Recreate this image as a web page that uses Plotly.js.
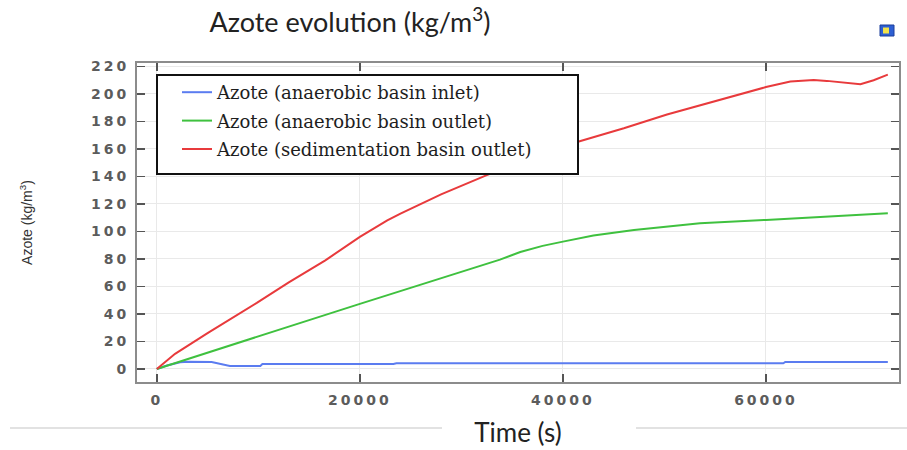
<!DOCTYPE html>
<html>
<head>
<meta charset="utf-8">
<script src="https://cdn.plot.ly/plotly-3.0.1.min.js"></script>
<style>
  html, body { margin: 0; padding: 0; background: #ffffff; }
  #chart { width: 907px; height: 450px; }
  .xtick text, .ytick text { letter-spacing: 3px; }
</style>
</head>
<body>
<div id="chart"></div>
<script>
// ---- data ----
const seriesNames = [
  "Azote (anaerobic basin inlet)",
  "Azote (anaerobic basin outlet)",
  "Azote (sedimentation basin outlet)"
];

const inletTime   = [0, 1000, 2300, 3100, 5400, 5800, 6300, 7200, 10200, 10400, 23300, 23600, 61700, 61900, 72000];
const inletAzote  = [0, 2.5, 4.8, 5.2, 5.0, 4.5, 3.6, 2.2, 2.2, 3.6, 3.6, 4.1, 4.1, 5.1, 5.1];

const anaOutTime  = [0, 5000, 9850, 15000, 20000, 25000, 30000, 33800, 35800, 38000, 40000, 43000, 47000, 53500, 60000, 66600, 72000];
const anaOutAzote = [0, 12, 23.5, 35.5, 47.3, 59, 71, 79.5, 85, 89.5, 92.6, 97, 101, 106, 108.4, 110.8, 113.2];

const sedOutTime  = [0, 1800, 5000, 9850, 13000, 16600, 20000, 22700, 24000, 28000, 32500, 36000, 41400, 46000, 50250, 55000, 60000, 62400, 64700, 66000, 67650, 69300, 70600, 72000];
const sedOutAzote = [0, 11, 26, 48, 63, 79, 96, 108, 113, 127, 141, 151, 165, 175, 185, 195, 205, 209, 210.2, 209.5, 208, 207, 210, 214];

const xTickVals = [0, 20000, 40000, 60000];
const yTickVals = [0, 20, 40, 60, 80, 100, 120, 140, 160, 180, 200, 220];

const chartTitle = "Azote evolution (kg/m<sup>3</sup>)";
const xTitle = "Time (s)";
const yTitle = "Azote (kg/m<sup>3</sup>)";

// ---- traces ----
const colors = ["#5b7cf0", "#3fc13f", "#e83a3c"];
const traces = [
  { x: inletTime,  y: inletAzote,  name: seriesNames[0] },
  { x: anaOutTime, y: anaOutAzote, name: seriesNames[1] },
  { x: sedOutTime, y: sedOutAzote, name: seriesNames[2] }
].map((t, i) => Object.assign(t, {
  type: "scatter",
  mode: "lines",
  line: { color: colors[i], width: 2 },
  legendgroup: "g" + i
}));

const tickFont = { family: "DejaVu Sans", size: 14, color: "#5c5c5c", weight: "bold" };

const axisCommon = {
  showline: true,
  linecolor: "#8c8c8c",
  linewidth: 2,
  mirror: "ticks",
  ticks: "inside",
  ticklen: 8,
  tickwidth: 1.5,
  tickcolor: "#555555",
  showgrid: true,
  gridcolor: "#e9e9e9",
  gridwidth: 1,
  zeroline: false,
  tickfont: tickFont
};

const layout = {
  width: 907,
  height: 450,
  paper_bgcolor: "#ffffff",
  plot_bgcolor: "#ffffff",
  margin: { l: 137, r: 8, t: 63, b: 68 },
  showlegend: true,
  title: {
    text: chartTitle,
    font: { family: "Lato", size: 27, color: "#222222" },
    x: 350 / 907, xanchor: "center", xref: "container",
    y: 1 - 23 / 450, yanchor: "middle", yref: "container"
  },
  xaxis: Object.assign({}, axisCommon, {
    range: [-1950, 73100],
    tickvals: xTickVals,
    ticktext: xTickVals.map(String),
    ticklabelstandoff: 4,
    title: { text: xTitle, font: { family: "Lato", size: 26, color: "#222222" }, standoff: 17 }
  }),
  yaxis: Object.assign({}, axisCommon, {
    range: [-9.5, 222.5],
    tickvals: yTickVals,
    ticktext: yTickVals.map(String),
    ticklabelstandoff: 3,
    title: { text: yTitle, font: { family: "Liberation Sans Narrow, Liberation Sans", size: 14, color: "#333333" }, standoff: 55 }
  }),
  legend: {
    x: (177 - 137) / 762, xanchor: "left", xref: "paper",
    y: (382 - 74) / 319, yanchor: "top", yref: "paper",
    bgcolor: "rgba(0,0,0,0)",
    borderwidth: 0,
    font: { family: "DejaVu Serif", size: 18, color: "#1e1e1e" },
    traceorder: "grouped",
    tracegroupgap: 2,
    itemwidth: 30
  },
  shapes: [
    // legend frame (white box that hides the lines behind it)
    { type: "rect", xref: "paper", yref: "paper", layer: "above",
      x0: (157 - 137) / 762, x1: (578 - 137) / 762,
      y0: (382 - 174) / 319, y1: (382 - 75) / 319,
      fillcolor: "#ffffff", line: { color: "#111111", width: 2 } },
    // light separator lines beside the x title
    { type: "line", xref: "paper", yref: "paper",
      x0: (10 - 137) / 762, x1: (442 - 137) / 762,
      y0: (382 - 428) / 319, y1: (382 - 428) / 319,
      line: { color: "#e2e2e2", width: 2 } },
    { type: "line", xref: "paper", yref: "paper",
      x0: (636 - 137) / 762, x1: (907 - 137) / 762,
      y0: (382 - 428) / 319, y1: (382 - 428) / 319,
      line: { color: "#e2e2e2", width: 2 } },
    // small toolbar icon at top right
    { type: "rect", xref: "paper", yref: "paper",
      x0: (880 - 137) / 762, x1: (894 - 137) / 762,
      y0: (382 - 36) / 319, y1: (382 - 25) / 319,
      fillcolor: "#2d5fd3", line: { color: "#1d3f9a", width: 1 } },
    { type: "rect", xref: "paper", yref: "paper",
      x0: (883 - 137) / 762, x1: (889 - 137) / 762,
      y0: (382 - 33.5) / 319, y1: (382 - 27.5) / 319,
      fillcolor: "#f2e34a", line: { width: 0 } }
  ]
};

Plotly.newPlot("chart", traces, layout, { displayModeBar: false, staticPlot: true });
</script>
</body>
</html>
